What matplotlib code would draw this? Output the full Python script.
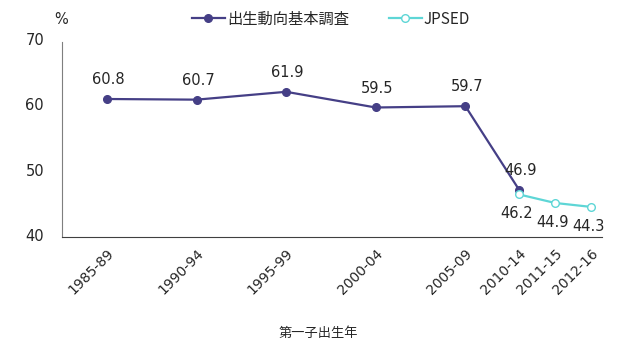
import matplotlib
matplotlib.use('Agg')
from matplotlib import pyplot as plt
from matplotlib.font_manager import FontProperties

plt.rcParams['font.family'] = ['Noto Sans CJK JP', 'DejaVu Sans']

# Data
PERIODS = ['1985-89', '1990-94', '1995-99', '2000-04', '2005-09',
           '2010-14', '2011-15', '2012-16']
PERIOD_POS = [0, 5, 10, 15, 20, 23, 25, 27]

SURVEY_PERIODS = ['1985-89', '1990-94', '1995-99', '2000-04', '2005-09', '2010-14']
SURVEY_VALUES = [60.8, 60.7, 61.9, 59.5, 59.7, 46.9]

JPSED_PERIODS = ['2010-14', '2011-15', '2012-16']
JPSED_VALUES = [46.2, 44.9, 44.3]

PURPLE = '#453f86'
CYAN = '#5ed6d6'
TEXT = '#262626'

NUM_FONT = FontProperties(family='DejaVu Sans', size=10.5)
TICK_FONT = FontProperties(family='DejaVu Sans', size=10)


def positions(periods):
    return [PERIOD_POS[PERIODS.index(p)] for p in periods]


fig = plt.figure(figsize=(6.4, 3.5), dpi=100)
ax = fig.add_axes([0.097, 0.323, 0.843, 0.566])

xs = positions(SURVEY_PERIODS)
ax.plot(xs, SURVEY_VALUES, '-o', color=PURPLE, lw=1.6, ms=5.5,
        label='出生動向基本調査', zorder=3)
for x, v in zip(xs, SURVEY_VALUES):
    ax.annotate('%.1f' % v, (x, v), xytext=(1, 14), textcoords='offset points',
                ha='center', va='center', fontproperties=NUM_FONT, color=TEXT)

xj = positions(JPSED_PERIODS)
ax.plot(xj, JPSED_VALUES, '-o', color=CYAN, lw=1.6, ms=5.5, mfc='white',
        mec=CYAN, mew=1.0, label='JPSED', zorder=4)
for x, v in zip(xj, JPSED_VALUES):
    ax.annotate('%.1f' % v, (x, v), xytext=(-2, -14), textcoords='offset points',
                ha='center', va='center', fontproperties=NUM_FONT, color=TEXT)

ax.set_xlim(-2.5, 27.6)
ax.set_ylim(39.7, 70)
ax.set_yticks([40, 50, 60, 70])
ax.set_xticks(PERIOD_POS)
ax.set_xticklabels(PERIODS, rotation=45, ha='right', va='top',
                   rotation_mode='anchor', fontproperties=TICK_FONT)
ax.set_yticklabels(['40', '50', '60', '70'], fontproperties=NUM_FONT)
ax.tick_params(axis='both', length=0, colors=TEXT)
ax.tick_params(axis='y', pad=13)
ax.tick_params(axis='x', pad=7)

for side in ('top', 'right'):
    ax.spines[side].set_visible(False)
ax.spines['left'].set_color('#7f7f7f')
ax.spines['left'].set_bounds(39.7, 69.5)
ax.spines['bottom'].set_color('#404040')

fig.text(0.095, 0.943, '%', ha='center', va='center',
         fontproperties=NUM_FONT, color=TEXT)
fig.text(0.497, 0.048, '第一子出生年', ha='center', va='center', fontsize=9.5,
         color=TEXT)

fig.legend(loc='center', bbox_to_anchor=(0.517, 0.945), ncol=2, frameon=False,
           fontsize=11, handlelength=2.2, handletextpad=0.1,
           columnspacing=2.6, labelcolor=TEXT)

fig.savefig('out.png', dpi=100)
